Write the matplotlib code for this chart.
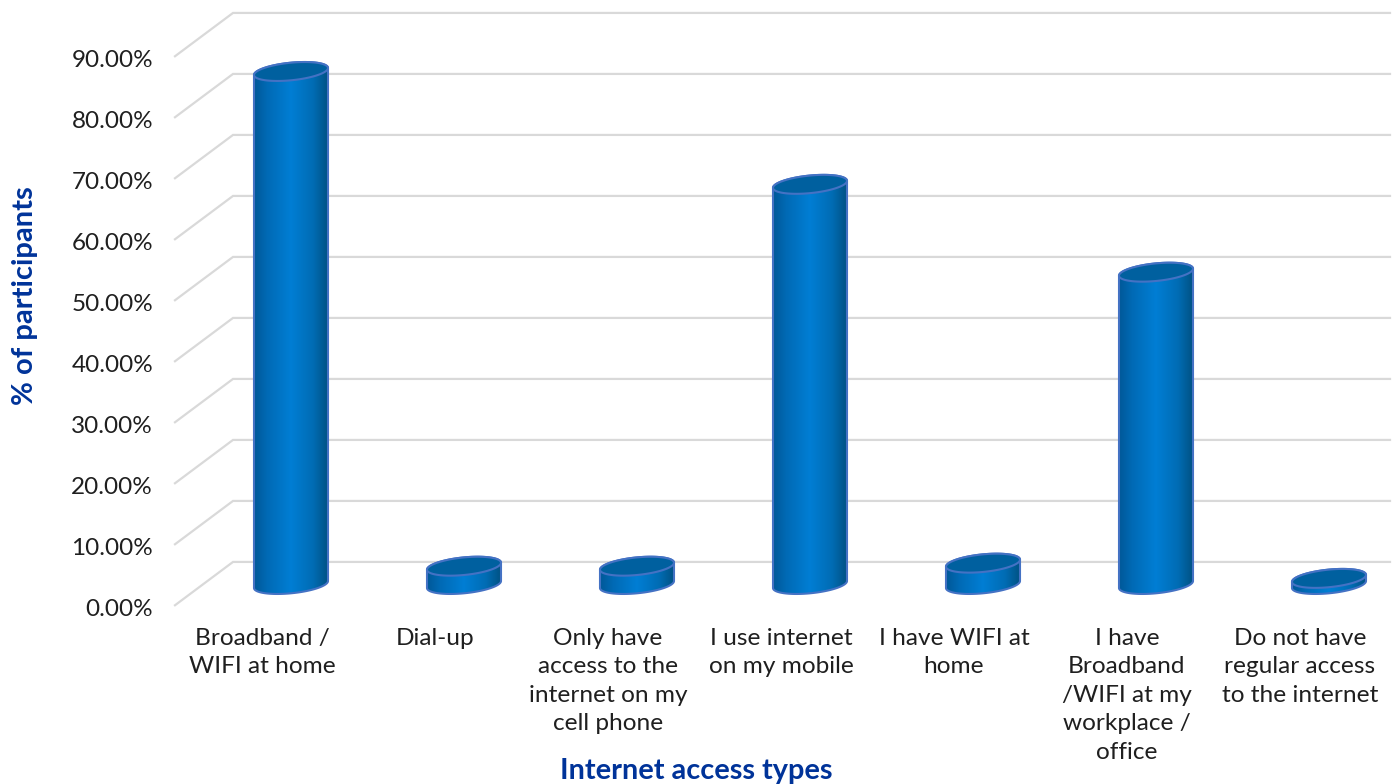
import numpy as np
import matplotlib
matplotlib.use('Agg')
import matplotlib.pyplot as plt
from matplotlib.patches import Polygon

plt.rcParams['font.family'] = ['Lato', 'DejaVu Sans']

categories = ['Broadband /\nWIFI at home', 'Dial-up',
              'Only have\naccess to the\ninternet on my\ncell phone',
              'I use internet\non my mobile', 'I have WIFI at\nhome',
              'I have\nBroadband\n/WIFI at my\nworkplace /\noffice',
              'Do not have\nregular access\nto the internet']
values = [84.1, 3.0, 3.0, 65.6, 3.5, 51.2, 1.0]
ticks = [0, 10, 20, 30, 40, 50, 60, 70, 80, 90]

W, H = 1397, 784
fig = plt.figure(figsize=(W / 100, H / 100), dpi=100)
ax = fig.add_axes([0, 0, 1, 1])
ax.axis('off')

# scale: one category = 173 px, 1% = 6.1 px, first bar at x=291, zero at y=584.5
sx, sy = 173.0, 6.1
x0, y0 = 291.0, 584.5
xlim = (-x0 / sx, (W - x0) / sx)
ylim = ((y0 - H) / sy, y0 / sy)

half = 37 / sx
minor = 8.8 / sy
tilt = 3.5 / sy
t = np.linspace(0, 2 * np.pi, 200)

grid_color = '#d9d9d9'
text_color = '#1f1f1f'
title_color = '#003399'
edge_color = '#4472c4'
top_color = '#00609f'

# wall gridlines
front_x = (175 - x0) / sx
back_x = (233 - x0) / sx
end_x = (1390 - x0) / sx
for v in ticks:
    ax.plot([front_x, back_x, end_x], [v - 3.4, v + 3.7, v + 3.7],
            color=grid_color, lw=1.6, solid_joinstyle='miter', zorder=1)
    ax.text((153 - x0) / sx, v - 4.15, f'{v:.2f}%', ha='right', va='center',
            fontsize=17.5, color=text_color)

# horizontal shading of the cylinders
stops = np.array([0, 0.18, 0.5, 0.8, 1])
reds = np.array([0x00, 0x00, 0x00, 0x00, 0x00])
greens = np.array([0x58, 0x6a, 0x7e, 0x6c, 0x52])
blues = np.array([0x98, 0xb5, 0xd4, 0xb4, 0x84])
u = np.linspace(0, 1, 256)
shade = np.stack([np.interp(u, stops, reds), np.interp(u, stops, greens),
                  np.interp(u, stops, blues)], axis=-1)[None, :, :] / 255

for i, v in enumerate(values):
    # lower half of base ellipse, then up the right side and back along the top
    tb = np.linspace(np.pi, 2 * np.pi, 80)
    bx = i + half * np.cos(tb)
    by = minor * np.sin(tb) + tilt * np.cos(tb)
    tt = np.linspace(0, np.pi, 80)
    tx = i + half * np.cos(tt)
    ty = v + minor * np.sin(tt) + tilt * np.cos(tt)
    body = Polygon(np.column_stack([np.r_[bx, tx], np.r_[by, ty]]), closed=True,
                   fc='none', ec=edge_color, lw=1.5, zorder=4)
    ax.add_patch(body)
    im = ax.imshow(shade, extent=(i - half, i + half, -minor * 2, v + minor * 2),
                   aspect='auto', zorder=3, interpolation='bilinear')
    im.set_clip_path(body)
    ax.fill(i + half * np.cos(t), v + minor * np.sin(t) + tilt * np.cos(t),
            fc=top_color, ec=edge_color, lw=1.5, zorder=5)
    # labels sit left of the bars, under the front edge of the floor
    ax.text(i - 29 / sx, -7.1, categories[i], ha='center', va='top', fontsize=17.6,
            color=text_color, linespacing=1.44)

ax.text((25 - x0) / sx, (y0 - 296) / sy, '% of participants', rotation=90,
        ha='center', va='center', fontsize=21, fontweight='bold', color=title_color)
ax.text((696 - x0) / sx, (y0 - 771) / sy, 'Internet access types', ha='center',
        va='center', fontsize=20.8, fontweight='bold', color=title_color)

ax.set_xlim(xlim)
ax.set_ylim(ylim)
fig.savefig('out.png', dpi=100, facecolor='white')
